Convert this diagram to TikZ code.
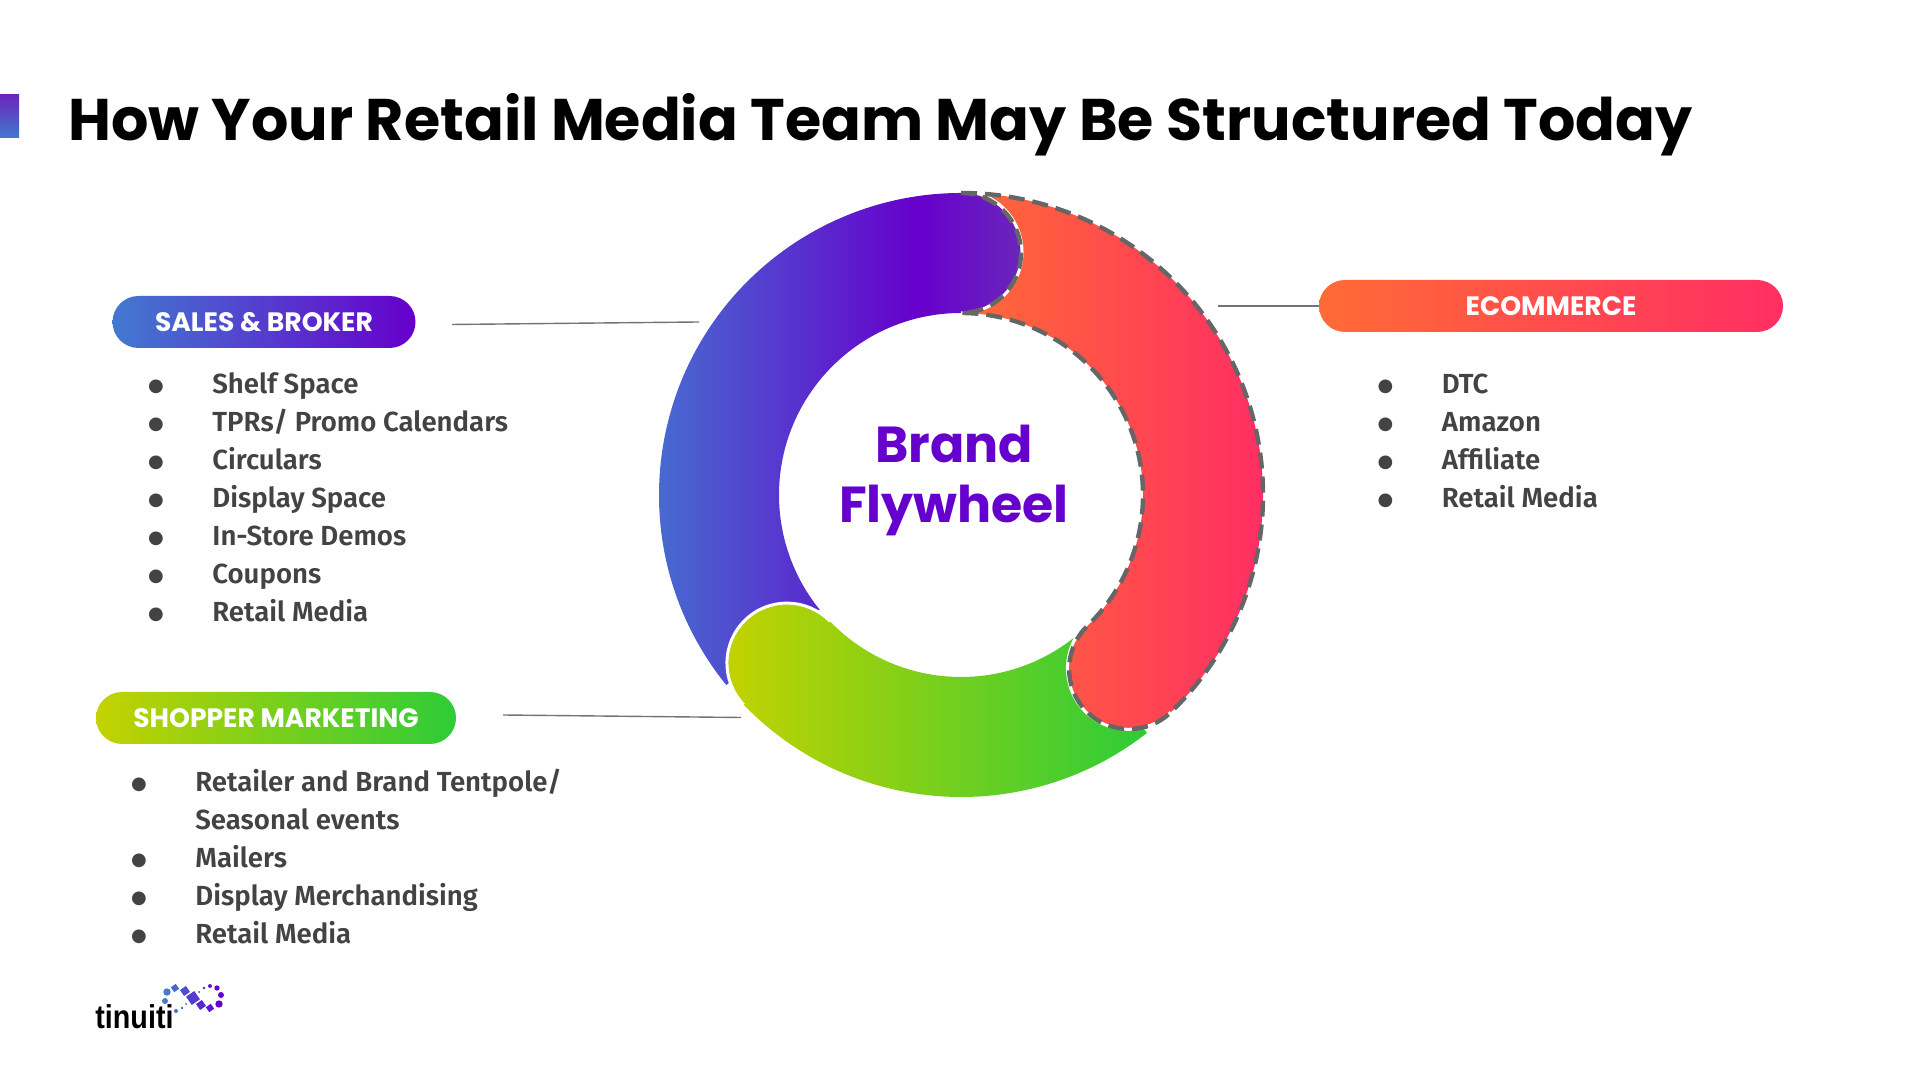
\documentclass[tikz,border=0pt]{standalone}
\usepackage{fontspec}
\usetikzlibrary{matrix}
\setmainfont{Liberation Sans}
\newfontfamily\poppinsfont{Poppins}
\newfontfamily\listfont{Fira Sans SemiBold}
\newfontfamily\dotfont{DejaVu Sans}
\newfontfamily\logofont[FakeStretch=0.87]{Liberation Sans}

\definecolor{listgray}{HTML}{434343}
\definecolor{brandpurple}{HTML}{6600CC}
\definecolor{wheelblue}{HTML}{4379D0}
\definecolor{capviolet}{HTML}{6A25BC}
\definecolor{wheelorange}{HTML}{FF6B35}
\definecolor{wheelpink}{HTML}{FF2E63}
\definecolor{wheellime}{HTML}{C4D200}
\definecolor{wheelgreen}{HTML}{2ECC38}
\definecolor{dashgray}{HTML}{666666}
\pgfdeclarehorizontalshading{bluewave}{100bp}{color(0bp)=(wheelblue); color(25bp)=(wheelblue); color(62bp)=(brandpurple); color(75bp)=(capviolet); color(100bp)=(capviolet)}

\tikzset{
    pill/.style={rounded corners=13pt, minimum height=26pt, inner sep=0, text=white, font=\poppinsfont\bfseries\fontsize{13.3}{13.3}\selectfont},
    leader/.style={draw=gray!90!black, line width=0.7pt},
    bulletlist/.style={matrix of nodes, nodes in empty cells, anchor=north west, inner sep=0, row sep=0pt, column sep=15.75pt,
        nodes={inner sep=0, outer sep=0, text height=13pt, text depth=6pt, text=listgray, font=\listfont\fontsize{13.8}{13.8}\selectfont},
        column 1/.style={nodes={minimum width=25pt, font=\dotfont\fontsize{9}{9}\selectfont}},
        column 2/.style={anchor=base west}}
}
\newcommand{\itemdot}{\raisebox{0.8pt}{●}}

\begin{document}
\begin{tikzpicture}[x=0.5pt, y=0.5pt]
    \useasboundingbox (0,0) rectangle (1920,1080);
    \coordinate (C) at (961,585);

    % title
    \fill[top color=capviolet, bottom color=wheelblue] (0,985) rectangle (19,942);
    \node (title) [anchor=base west, inner sep=0, font=\poppinsfont\bfseries\fontsize{29.35}{30}\selectfont] at (68,939) {How Your Retail Media Team May Be Structured Today};

    % wheel
    \shade[shading=bluewave] (C) ++(219:302) arc[start angle=219, end angle=90, radius=302]
        arc[start angle=90, delta angle=-180, radius=60]
        arc[start angle=90, end angle=219, radius=182] -- cycle;
    \shade[left color=wheellime, right color=wheelgreen] (C) ++(-52:302) arc[start angle=-52, end angle=-136, radius=302]
        arc[start angle=-136, delta angle=-180, radius=60]
        arc[start angle=-136, end angle=-52, radius=182] -- cycle;
    \draw[white, line width=1.5pt] (C) ++(-136:302) arc[start angle=-136, delta angle=-180, radius=60];
    \shade[left color=wheelorange, right color=wheelpink] (C) ++(90:302) arc[start angle=90, end angle=-46, radius=302]
        arc[start angle=-46, delta angle=-180, radius=60]
        arc[start angle=-46, end angle=90, radius=182]
        arc[start angle=-90, end angle=90, radius=60] -- cycle;
    \draw[white, line width=1.5pt] (C) ++(90:182) arc[start angle=-90, end angle=90, radius=61];
    \draw[white, line width=1.5pt] (C) ++(-46:302) arc[start angle=-46, delta angle=-180, radius=61];
    \draw[dashgray, line width=2.2pt, dash pattern=on 8pt off 4pt] (C) ++(90:302) arc[start angle=90, end angle=-46, radius=302]
        arc[start angle=-46, delta angle=-180, radius=60]
        arc[start angle=-46, end angle=90, radius=182]
        arc[start angle=-90, end angle=90, radius=60] -- cycle;
    \node (brand) [align=center, text=brandpurple, inner sep=0, font=\poppinsfont\bfseries\fontsize{25.3}{30}\selectfont] at (954,600) {Brand\\Flywheel};

    % pills
    \node (sales) [pill, left color=wheelblue, right color=brandpurple, minimum width=151.5pt] at (264,758) {SALES \& BROKER};
    \node (ecom) [pill, left color=wheelorange, right color=wheelpink, minimum width=232pt] at (1551,774) {ECOMMERCE};
    \node (shopper) [pill, left color=wheellime, right color=wheelgreen, minimum width=180pt] at (276,362) {SHOPPER MARKETING};

    % leaders
    \coordinate (salesA) at (452,755.5);
    \coordinate (salesB) at (699,758);
    \coordinate (ecomA) at (1218,774);
    \coordinate (shopA) at (503,365);
    \coordinate (shopB) at (741,362.5);
    \draw[leader] (salesA) -- (salesB);
    \draw[leader] (ecomA) -- (ecom.west);
    \draw[leader] (shopA) -- (shopB);

    % lists
    \matrix (saleslist) [bulletlist] at (130.5,713)
      {
        \itemdot & Shelf Space \\
        \itemdot & TPRs/ Promo Calendars \\
        \itemdot & Circulars \\
        \itemdot & Display Space \\
        \itemdot & In-Store Demos \\
        \itemdot & Coupons \\
        \itemdot & Retail Media \\
      };
    \matrix (ecomlist) [bulletlist] at (1360,713)
      {
        \itemdot & DTC \\
        \itemdot & Amazon \\
        \itemdot & Affiliate \\
        \itemdot & Retail Media \\
      };
    \matrix (shoplist) [bulletlist] at (113.5,315)
      {
        \itemdot & Retailer and Brand Tentpole/ \\
        & Seasonal events \\
        \itemdot & Mailers \\
        \itemdot & Display Merchandising \\
        \itemdot & Retail Media \\
      };

    % logo
    \node (logo) [anchor=base west, inner sep=0, font=\logofont\bfseries\fontsize{16.5}{16.5}\selectfont] at (95,51) {tinuiti};
    \foreach \x/\y/\r/\m in {167/88/3.7/0, 165/79/3/0, 176/69/2/8, 182/72/1.4/15, 186/76/1/25, 199/88/1/60, 204/92/1.4/70, 210/94/2/85, 217/92/2.7/95, 221/85/3/100, 219/76/3.7/100}
        \fill[wheelblue!\the\numexpr100-\m\relax!brandpurple] (\x,\y) circle[radius=\r];
    \foreach \x/\y/\s/\m in {175/92/3/15, 185/89/3.6/35, 193/82/5/50, 201/75/3.6/65, 210/72/3/80}
        \fill[wheelblue!\the\numexpr100-\m\relax!brandpurple, rotate around={35:(\x,\y)}] (\x-\s,\y-\s) rectangle (\x+\s,\y+\s);
\end{tikzpicture}
\end{document}
